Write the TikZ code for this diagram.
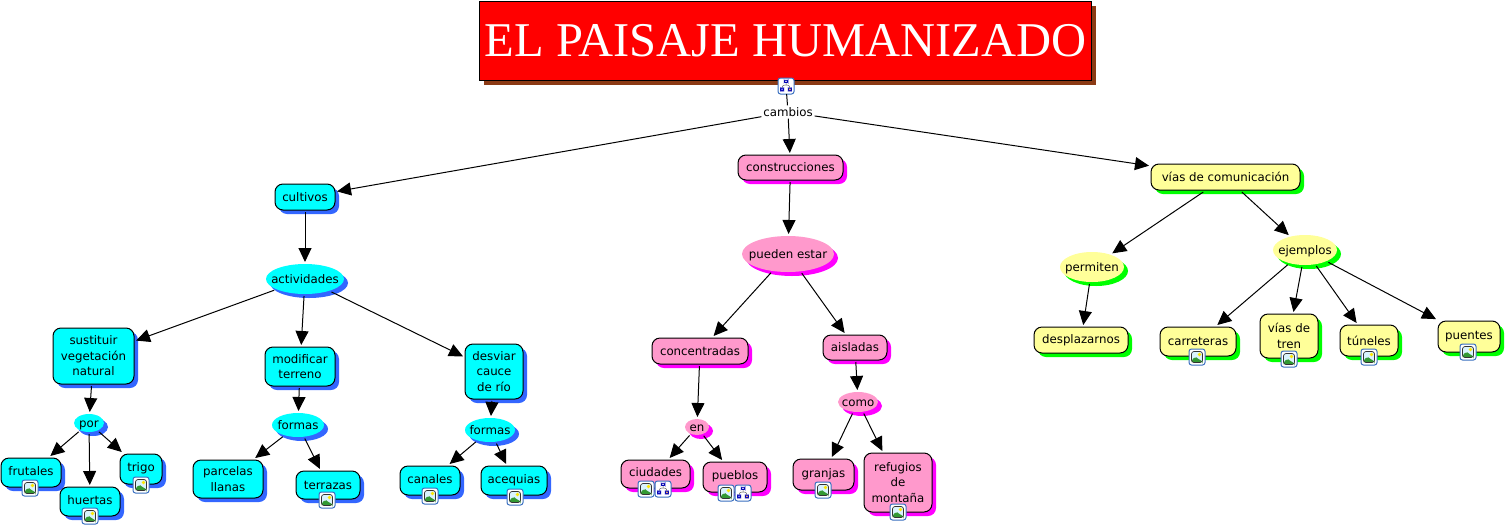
\documentclass[tikz,border=0pt]{standalone}
\usepackage{fontspec}
\setmainfont{DejaVu Sans}
\newfontfamily\titlefont{Liberation Serif}
\usetikzlibrary{arrows.meta,shapes.geometric,shadows}
\definecolor{cCyan}{HTML}{00FFFF}\definecolor{sCyan}{HTML}{3366FF}
\definecolor{cPink}{HTML}{FF99CC}\definecolor{sPink}{HTML}{FF00FF}
\definecolor{cYel}{HTML}{FFFF99}\definecolor{sYel}{HTML}{00FF00}
\definecolor{titleShadow}{HTML}{8B3A14}
\definecolor{iconBlue}{HTML}{3A6FC0}
\newcommand{\cbox}[7]{\node[concept,#6,minimum width={(#4-#2)*1pt},minimum height={(#5-#3)*1pt}] (#1) at ({(#2+#4)/2},{(#3+#5)/2}) {#7};}
\newcommand{\cell}[6]{\node[phrase,#5,minimum width={#3*1pt},minimum height={#4*1pt}] (#1) at (#2) {\raisebox{-4pt}[0pt][0pt]{\makebox[0pt]{#6}}};}
\tikzset{
 x=1pt,y=-1pt,
 every node/.style={font=\fontsize{11.8}{15.5}\selectfont,text=black,align=center,inner sep=0pt,outer sep=2pt},
 concept/.style={rectangle,rounded corners=8pt,draw=black,line width=1pt},
 phrase/.style={ellipse},
 cy/.style={fill=cCyan,general shadow={shadow xshift=4pt,shadow yshift=-4pt,fill=sCyan}},
 pk/.style={fill=cPink,general shadow={shadow xshift=4pt,shadow yshift=-4pt,fill=sPink}},
 ye/.style={fill=cYel,general shadow={shadow xshift=4pt,shadow yshift=-4pt,fill=sYel}},
 link/.style={line width=1pt,-{Triangle[length=14pt,width=13pt]}},
 plain/.style={line width=1pt},
 iconbase/.style={rectangle,rounded corners=2.5pt,draw=iconBlue,line width=1pt,fill=white,minimum size=16pt,outer sep=0pt},
 imgicon/.style={iconbase,path picture={
   \begin{scope}[shift={(path picture bounding box.center)}]
   \fill[cyan!15] (-5.5,-5.5) rectangle (5.5,5.5);
   \fill[yellow!90!orange] (2.5,-2.5) circle (1.8);
   \fill[green!50!black!80] (-5.5,5.5) -- (-5.5,3) -- (-1.5,-.5) -- (1,2) -- (5.5,4) -- (5.5,5.5) -- cycle;
   \draw[black!80,line width=.7pt] (-5.5,-5.5) rectangle (5.5,5.5);
   \end{scope}}},
 mapicon/.style={iconbase,path picture={
   \begin{scope}[shift={(path picture bounding box.center)}]
   \draw[black!60,line width=.5pt] (0,-3.5) -- (0,-1) (-3.8,1.8) -- (-3.8,-1) -- (3.8,-1) -- (3.8,1.8);
   \draw[blue!70!black,fill=white,line width=.5pt] (-2,-6) rectangle (2,-3.5);
   \draw[blue!70!black,fill=blue!50,line width=.5pt] (-5.6,1.8) rectangle (-2.2,5);
   \draw[blue!70!black,fill=orange!60,line width=.5pt] (2.2,1.8) rectangle (5.6,5);
   \end{scope}}},
}
\begin{document}
\begin{tikzpicture}
\useasboundingbox (0,0) rectangle (1508,528);
\fill[white] (0,0) rectangle (1508,528);
% title
\node[rectangle,draw=black,line width=1pt,fill=red,minimum width=612pt,minimum height=79pt,outer sep=0pt,
  general shadow={shadow xshift=4pt,shadow yshift=-4pt,fill=titleShadow},text=white,font=\titlefont\fontsize{48.5}{48.5}\selectfont] (title) at (785.5,41) {EL PAISAJE HUMANIZADO};
\node (cambios) at (788,112) {cambios};
% concepts
\cbox{cultivos}{275}{184}{335}{210}{cy}{cultivos}
\cbox{construcciones}{738}{155}{843}{180}{pk}{construcciones}
\cbox{vias}{1151}{164}{1300}{190}{ye}{vías de comunicación}
\cell{actividades}{305,279}{78}{30}{cy}{actividades}
\cell{pueden}{788,254}{92}{36}{pk}{pueden estar}
\cell{permiten}{1092,267}{64}{30}{ye}{permiten}
\cell{ejemplos}{1305,250}{64}{30}{ye}{ejemplos}
\cbox{sustituir}{53}{328}{134}{384}{cy}{sustituir\\vegetación\\natural}
\cbox{modificar}{265}{347}{335}{386}{cy}{modificar\\terreno}
\cbox{desviar}{465}{344}{523}{399}{cy}{desviar\\cauce\\de río}
\cbox{concentradas}{652}{338}{748}{364}{pk}{concentradas}
\cbox{aisladas}{823}{335}{887}{360}{pk}{aisladas}
\cbox{desplazarnos}{1034}{327}{1128}{353}{ye}{desplazarnos}
\cbox{carreteras}{1160}{327}{1236}{356}{ye}{carreteras}
\cbox{viastren}{1260}{314}{1318}{358}{ye}{vías de\\tren}
\cbox{tuneles}{1340}{325}{1398}{356}{ye}{túneles}
\cbox{puentes}{1438}{321}{1500}{352}{ye}{puentes}
\cell{por}{89,423}{30}{18}{cy}{por}
\cell{formasA}{298,425}{52}{24}{cy}{formas}
\cell{formasB}{490,430}{50}{24}{cy}{formas}
\cell{en}{697,427}{24}{16}{pk}{en}
\cell{como}{858,402}{40}{20}{pk}{como}
\cbox{frutales}{1}{458}{61}{487}{cy}{\raisebox{3pt}{frutales}}
\cbox{huertas}{60}{487}{120}{516}{cy}{\raisebox{3pt}{huertas}}
\cbox{trigo}{120}{454}{162}{484}{cy}{\raisebox{3pt}{trigo}}
\cbox{parcelas}{193}{460}{263}{498}{cy}{parcelas\\llanas}
\cbox{terrazas}{296}{471}{360}{499}{cy}{terrazas}
\cbox{canales}{400}{466}{460}{495}{cy}{\raisebox{3pt}{canales}}
\cbox{acequias}{481}{466}{547}{495}{cy}{\raisebox{3pt}{acequias}}
\cbox{ciudades}{621}{460}{690}{488}{pk}{\raisebox{3pt}{ciudades}}
\cbox{pueblos}{703}{462}{767}{492}{pk}{\raisebox{3pt}{pueblos}}
\cbox{granjas}{793}{459}{854}{490}{pk}{\raisebox{3pt}{granjas}}
\cbox{refugios}{864}{453}{932}{512}{pk}{refugios\\de\\montaña}
% icons
\node[mapicon] (icTitle) at (786,86) {};
\node[imgicon] (i1) at (30,488) {};
\node[imgicon] (i2) at (90,516) {};
\node[imgicon] (i3) at (141,485) {};
\node[imgicon] (i4) at (327,500) {};
\node[imgicon] (i5) at (430,496) {};
\node[imgicon] (i6) at (515,497) {};
\node[imgicon] (i7) at (646,489) {};
\node[mapicon] (i8) at (663,489) {};
\node[imgicon] (i9) at (726,493) {};
\node[mapicon] (i10) at (743,493) {};
\node[imgicon] (i11) at (823,490) {};
\node[imgicon] (i12) at (898,512) {};
\node[imgicon] (i13) at (1197,357) {};
\node[imgicon] (i14) at (1289,359) {};
\node[imgicon] (i15) at (1369,357) {};
\node[imgicon] (i16) at (1468,352) {};
% connectors
\draw[plain] (icTitle) -- (cambios);
\foreach \a/\b in {cambios/cultivos,cambios/construcciones,cambios/vias,
  cultivos/actividades,actividades/sustituir,actividades/modificar,actividades/desviar,
  sustituir/por,por/frutales,por/huertas,por/trigo,
  modificar/formasA,formasA/parcelas,formasA/terrazas,
  desviar/formasB,formasB/canales,formasB/acequias,
  construcciones/pueden,pueden/concentradas,pueden/aisladas,
  concentradas/en,en/ciudades,en/pueblos,aisladas/como,como/granjas,como/refugios,
  vias/permiten,vias/ejemplos,permiten/desplazarnos,
  ejemplos/carreteras,ejemplos/viastren,ejemplos/tuneles,ejemplos/puentes}
  {\draw[link] (\a) -- (\b);}
\end{tikzpicture}
\end{document}
